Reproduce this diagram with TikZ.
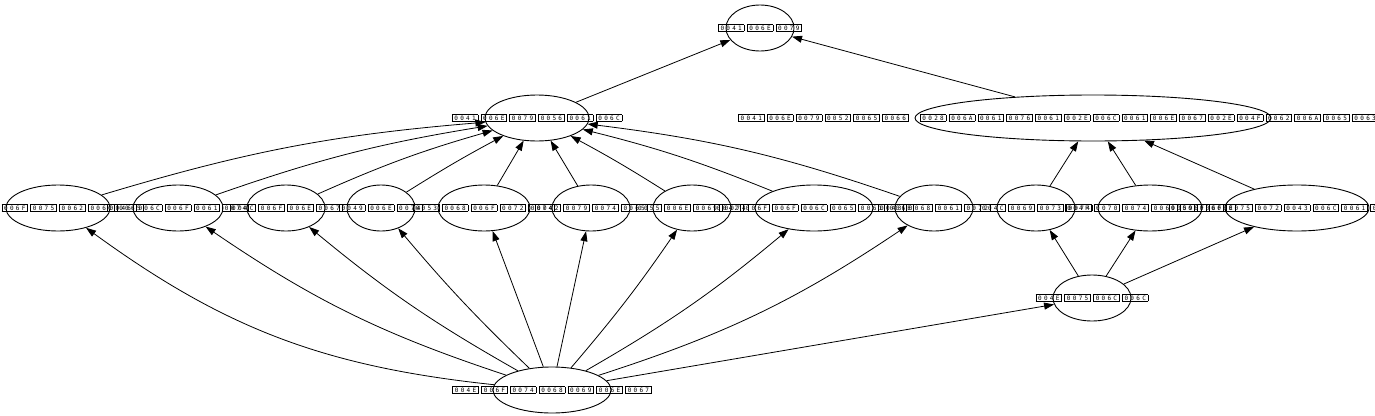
\documentclass[tikz,border=0pt]{standalone}
\usepackage{fontspec}
\newfontfamily\hexfont{DejaVu Sans Mono}
\usetikzlibrary{shapes.geometric,arrows.meta}
\setlength\fboxsep{0.8pt}
\setlength\fboxrule{0.6pt}
\newcommand\hb[4]{\hspace{1.2pt}\fbox{\makebox[5.9pt]{#1}\makebox[5.9pt]{#2}\makebox[5.9pt]{#3}\makebox[5.9pt]{#4}}\hspace{1.2pt}}
\newcommand\lbl[1]{\makebox[0pt][c]{\hexfont\fontsize{6pt}{7pt}\selectfont #1}}
\tikzset{
  ell/.style={draw, ellipse, line width=0.9pt, inner sep=0pt, minimum height=46pt},
  edge/.style={line width=0.8pt, -{Triangle[length=10pt,width=7pt]}},
}
\begin{document}
\begin{tikzpicture}[x=1pt,y=-1pt]
\useasboundingbox (0,0) rectangle (1375,415);
\node[ell, minimum width=68pt]  (any)     at (760,28)  {\lbl{\hb0041\hb006E\hb0079}};
\node[ell, minimum width=104pt] (anyval)  at (537,118) {\lbl{\hb0041\hb006E\hb0079\hb0056\hb0061\hb006C}};
\node[ell, minimum width=356pt] (anyref)  at (1093,118) {\lbl{\hspace{-12pt}\hb0041\hb006E\hb0079\hb0052\hb0065\hb0066\hspace{9pt}\hb0028\hb006A\hb0061\hb0076\hb0061\hb002E\hb006C\hb0061\hb006E\hb0067\hb002E\hb004F\hb0062\hb006A\hb0065\hb0063\hb0074\hb0029}};
\node[ell, minimum width=104pt] (double)  at (58,208)  {\lbl{\hb0044\hb006F\hb0075\hb0062\hb006C\hb0065}};
\node[ell, minimum width=90pt]  (float)   at (178,208) {\lbl{\hb0046\hb006C\hb006F\hb0061\hb0074}};
\node[ell, minimum width=78pt]  (long)    at (286,208) {\lbl{\hb004C\hb006F\hb006E\hb0067}};
\node[ell, minimum width=68pt]  (int)     at (381,208) {\lbl{\hb0049\hb006E\hb0074}};
\node[ell, minimum width=92pt]  (short)   at (484,208) {\lbl{\hb0053\hb0068\hb006F\hb0072\hb0074}};
\node[ell, minimum width=78pt]  (byte)    at (591,208) {\lbl{\hb0042\hb0079\hb0074\hb0065}};
\node[ell, minimum width=78pt]  (unit)    at (692,208) {\lbl{\hb0055\hb006E\hb0069\hb0074}};
\node[ell, minimum width=118pt] (boolean) at (814,208) {\lbl{\hb0042\hb006F\hb006F\hb006C\hb0065\hb0061\hb006E}};
\node[ell, minimum width=78pt]  (char)    at (934,208) {\lbl{\hb0043\hb0068\hb0061\hb0072}};
\node[ell, minimum width=78pt]  (list)    at (1036,208) {\lbl{\hb004C\hb0069\hb0073\hb0074}};
\node[ell, minimum width=104pt] (option)  at (1150,208) {\lbl{\hb004F\hb0070\hb0074\hb0069\hb006F\hb006E}};
\node[ell, minimum width=144pt] (yourclass) at (1297,208) {\lbl{\hb0059\hb006F\hb0075\hb0072\hb0043\hb006C\hb0061\hb0073\hb0073}};
\node[ell, minimum width=78pt]  (null)    at (1092,298) {\lbl{\hb004E\hb0075\hb006C\hb006C}};
\node[ell, minimum width=118pt] (nothing) at (552,390) {\lbl{\hb004E\hb006F\hb0074\hb0068\hb0069\hb006E\hb0067}};
% top
\draw[edge] (anyval) -- (any);
\draw[edge] (anyref) -- (any);
% value types -> AnyVal
\draw[edge] (double) to[bend left=6] (anyval);
\draw[edge] (float) to[bend left=5] (anyval);
\draw[edge] (long) to[bend left=4] (anyval);
\draw[edge] (int) to[bend left=2] (anyval);
\draw[edge] (short) -- (anyval);
\draw[edge] (byte) -- (anyval);
\draw[edge] (unit) to[bend right=2] (anyval);
\draw[edge] (boolean) to[bend right=4] (anyval);
\draw[edge] (char) to[bend right=6] (anyval);
% ref types -> AnyRef
\draw[edge] (list) -- (anyref);
\draw[edge] (option) -- (anyref);
\draw[edge] (yourclass) -- (anyref);
% Null
\draw[edge] (null) -- (list);
\draw[edge] (null) -- (option);
\draw[edge] (null) -- (yourclass);
% Nothing
\draw[edge] (nothing) to[bend left=15] (double);
\draw[edge] (nothing) to[bend left=8] (float);
\draw[edge] (nothing) to[bend left=5] (long);
\draw[edge] (nothing) to[bend left=3] (int);
\draw[edge] (nothing) -- (short);
\draw[edge] (nothing) -- (byte);
\draw[edge] (nothing) to[bend right=3] (unit);
\draw[edge] (nothing) to[bend right=5] (boolean);
\draw[edge] (nothing) to[bend right=8] (char);
\draw[edge] (nothing) -- (null);
\end{tikzpicture}
\end{document}
